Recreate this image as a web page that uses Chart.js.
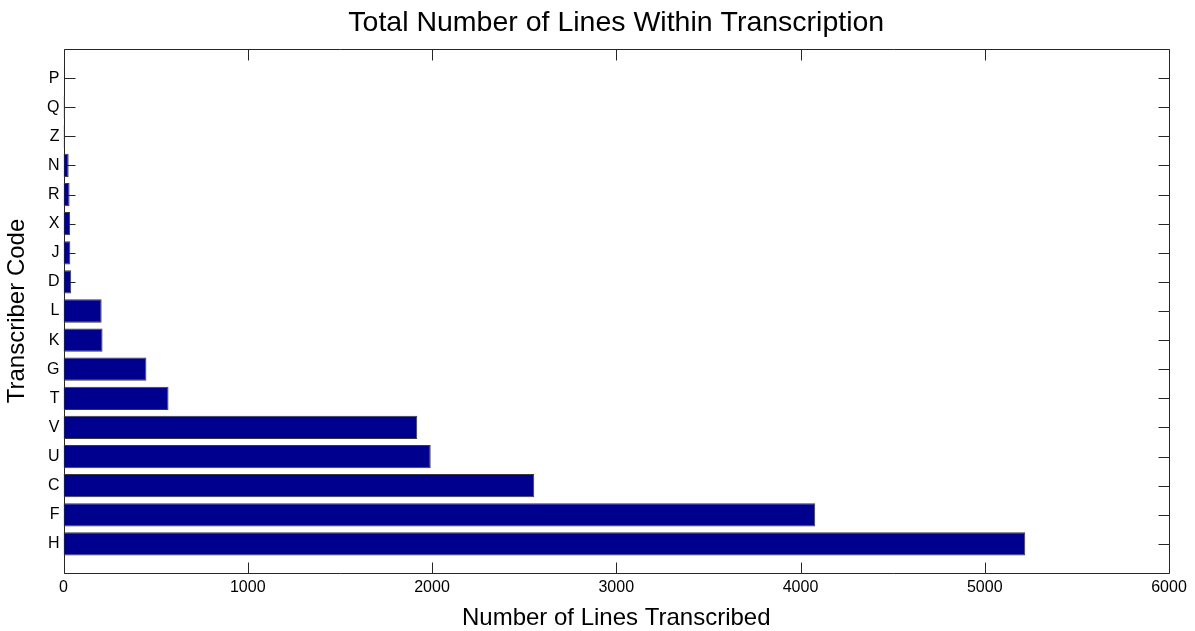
<!DOCTYPE html>
<html>
<head>
<meta charset="utf-8">
<script src="https://cdn.jsdelivr.net/npm/chart.js@4.4.1/dist/chart.umd.min.js"></script>
<style>
  html, body { margin: 0; padding: 0; background: #ffffff; }
  #wrap { width: 1195px; height: 631px; position: relative; }
</style>
</head>
<body>
<div id="wrap"><canvas id="c" width="1195" height="631"></canvas></div>
<script>
// Transcriber codes, listed from the bottom row (position 1) to the top row
const codes = ['H', 'F', 'C', 'U', 'V', 'T', 'G', 'K', 'L', 'D', 'J', 'X', 'R', 'N', 'Z', 'Q', 'P'];
// Lines transcribed per transcriber, same order as codes
const linesTranscribed = [5220, 4080, 2555, 1993, 1920, 570, 450, 212, 207, 42, 37, 36, 33, 28, 6, 7, 1];
// Value-axis tick values
const xTicks = [0, 1000, 2000, 3000, 4000, 5000, 6000];

const FONT = "Arial, 'Liberation Sans', Helvetica, sans-serif";
const AXIS_COLOR = '#262626';
const TICK_LEN = 11;

// MATLAB-style boxed axes with ticks pointing into the plot on all four sides;
// drawn beneath the bars so the bars cover the left-hand ticks
const boxTicks = {
  id: 'boxTicks',
  afterLayout(chart) {
    // centre the chart title over the plot box rather than the whole canvas
    const tb = chart.titleBlock;
    if (tb) {
      tb.left = chart.chartArea.left;
      tb.right = chart.chartArea.right;
      tb.width = tb.right - tb.left;
    }
  },
  beforeDatasetsDraw(chart) {
    const { ctx, chartArea: a, scales } = chart;
    const px = v => Math.round(v) + 0.5;
    const x0 = px(a.left), x1 = px(a.right), y0 = px(a.top), y1 = px(a.bottom);
    ctx.save();
    ctx.strokeStyle = AXIS_COLOR;
    ctx.lineWidth = 1;
    ctx.beginPath();
    ctx.rect(x0, y0, x1 - x0, y1 - y0);
    ctx.stroke();
    ctx.beginPath();
    scales.x.ticks.forEach(t => {
      const x = px(scales.x.getPixelForValue(t.value));
      ctx.moveTo(x, y1); ctx.lineTo(x, y1 - TICK_LEN);
      ctx.moveTo(x, y0); ctx.lineTo(x, y0 + TICK_LEN);
    });
    scales.y.ticks.forEach(t => {
      const y = px(scales.y.getPixelForValue(t.value));
      ctx.moveTo(x0, y); ctx.lineTo(x0 + TICK_LEN, y);
      ctx.moveTo(x1, y); ctx.lineTo(x1 - TICK_LEN, y);
    });
    ctx.stroke();
    ctx.restore();
  }
};

new Chart(document.getElementById('c'), {
  type: 'bar',
  data: {
    datasets: [{
      data: codes.map((c, i) => ({ x: linesTranscribed[i], y: i + 1 })),
      backgroundColor: '#00008F',
      borderColor: '#3a3a3a',
      borderWidth: 1,
      borderSkipped: false,
      barPercentage: 0.8,
      categoryPercentage: 1.0
    }]
  },
  options: {
    indexAxis: 'y',
    responsive: false,
    animation: false,
    events: [],
    layout: { padding: { left: 0, right: 26, top: 0, bottom: -2 } },
    plugins: {
      legend: { display: false },
      tooltip: { enabled: false },
      title: {
        display: true,
        text: 'Total Number of Lines Within Transcription',
        color: '#000',
        font: { family: FONT, size: 28.5, weight: 'normal' },
        padding: { top: 6, bottom: 8.8 }
      }
    },
    scales: {
      x: {
        type: 'linear',
        min: 0,
        max: 6000,
        offset: false,
        afterBuildTicks: s => { s.ticks = xTicks.map(v => ({ value: v })); },
        afterFit: s => { s.height = 60; s.paddingLeft = 0; s.paddingRight = 0; },
        ticks: {
          color: '#000',
          font: { family: FONT, size: 16 },
          padding: 4.5,
          maxRotation: 0,
          callback: v => String(v)
        },
        grid: { display: false, drawTicks: false },
        border: { display: false },
        title: {
          display: true,
          text: 'Number of Lines Transcribed',
          color: '#000',
          font: { family: FONT, size: 24 },
          padding: { top: 6, bottom: 0 }
        }
      },
      y: {
        type: 'linear',
        min: 0,
        max: 18,
        offset: false,
        afterBuildTicks: s => { s.ticks = codes.map((c, i) => ({ value: i + 1 })); },
        afterFit: s => { s.width = 63.5; s.paddingTop = 0; s.paddingBottom = 0; },
        ticks: {
          color: '#000',
          font: { family: FONT, size: 16 },
          padding: 4,
          callback: v => codes[v - 1] || ''
        },
        grid: { display: false, drawTicks: false, offset: false },
        border: { display: false },
        title: {
          display: true,
          text: 'Transcriber Code',
          color: '#000',
          font: { family: FONT, size: 24 },
          padding: { top: 3, bottom: 8 }
        }
      }
    }
  },
  plugins: [boxTicks]
});
</script>
</body>
</html>
